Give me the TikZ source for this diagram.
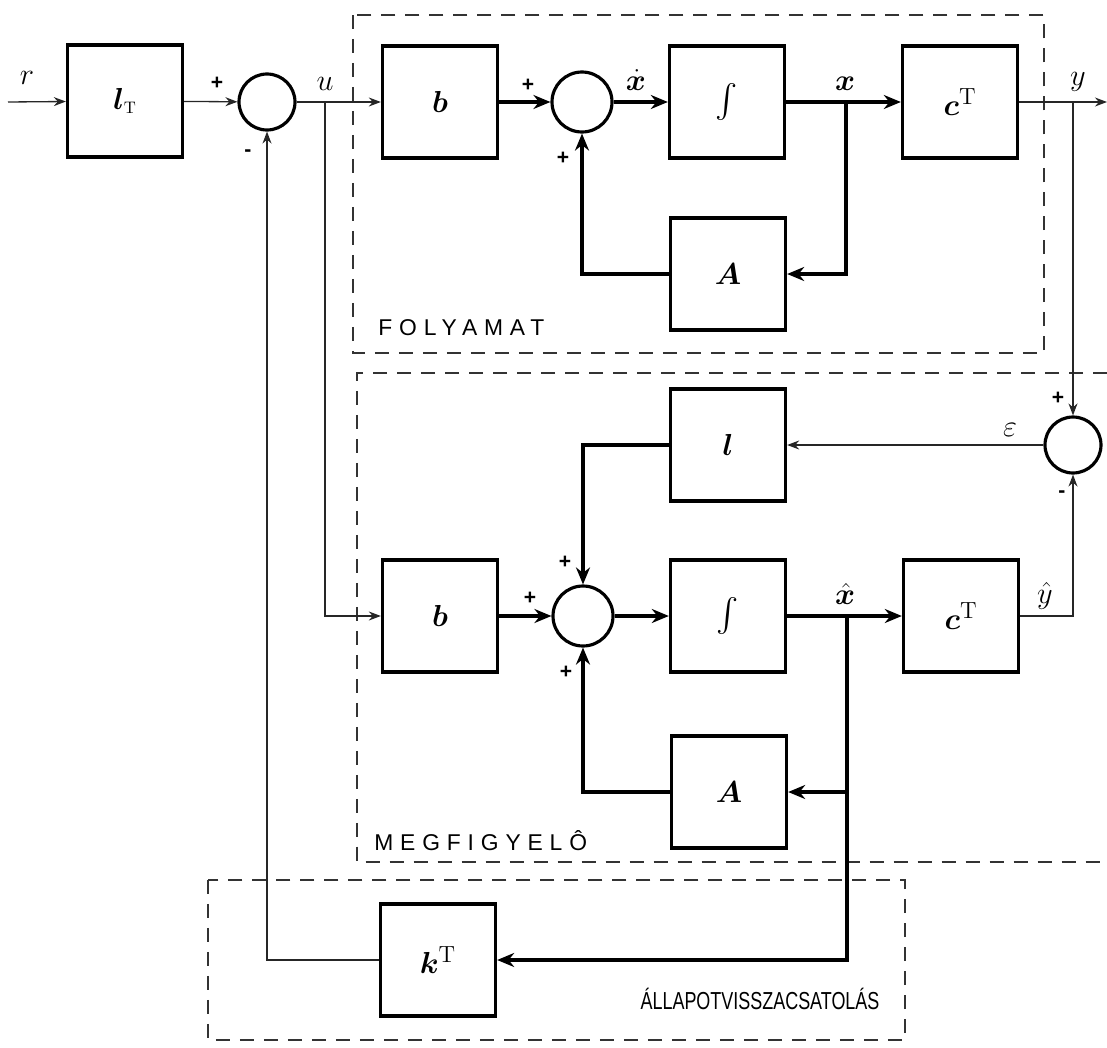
\documentclass[tikz,border=0pt]{standalone}
\usepackage{amsmath,amssymb}
\usepackage{bm}
\usepackage{fontspec}
\setsansfont{Liberation Sans}
\newfontfamily\spacedfont[LetterSpace=30]{Liberation Sans}
\newfontfamily\narrowfont[FakeStretch=0.73]{Liberation Sans}
\usetikzlibrary{arrows.meta}
\tikzset{
    block/.style={rectangle, draw=black, line width=1.9pt, minimum width=2.3cm, minimum height=2.24cm, font=\fontsize{19}{21}\selectfont},
    sumnode/.style={circle, draw=black, line width=1.8pt, minimum size=1.12cm, inner sep=0pt},
    arrow/.style={line width=1.8pt, -{Stealth[length=3.4mm, width=2.8mm]}},
    thinarrow/.style={line width=0.75pt, color=black!85, -{Stealth[length=2.4mm, width=1.8mm]}},
    boundary/.style={dash pattern=on 0.28cm off 0.2cm, line width=0.8pt, color=black!80},
    sign/.style={font=\sffamily\bfseries\large, inner sep=0pt},
    sig/.style={font=\fontsize{19}{21}\selectfont, inner sep=0pt},
    areatext/.style={font=\spacedfont\fontsize{13}{15}\selectfont, inner sep=0pt, anchor=west}
}
\begin{document}
\begin{tikzpicture}[x=0.02cm, y=-0.02cm]
    \useasboundingbox (0,0) rectangle (1107,1048);

    % Areas
    \draw [boundary] (353,15) rectangle (1044,353);
    \draw [boundary] (1107,373) -- (357,373) -- (357,862) -- (1107,862);
    \draw [boundary] (208,880) rectangle (905,1040);
    \node [areatext] at (378,328) {FOLYAMAT};
    \node [areatext] at (374,841) {MEGFIGYELÔ};
    \node [font=\narrowfont\fontsize{14}{16}\selectfont, inner sep=0pt] at (760,999) {ÁLLAPOTVISSZACSATOLÁS};

    % Nodes
    \node (lT) [block] at (125,101) {$\bm{l}_{\scriptscriptstyle\mathrm{T}}$};
    \node (sum1) [sumnode] at (267,102) {};
    \node (b1) [block] at (440,102) {$\bm{b}$};
    \node (sum2) [sumnode, minimum size=1.2cm] at (582,102) {};
    \node (int1) [block] at (727,102) {$\textstyle\int$};
    \node (c1) [block] at (960,102) {$\bm{c}^{\mathrm{T}}$};
    \node (A1) [block] at (728,274) {$\bm{A}$};

    \node (sum3) [sumnode] at (1073,445) {};
    \node (l2) [block] at (728,445) {$\bm{l}$};
    \node (b2) [block] at (440,616) {$\bm{b}$};
    \node (sum4) [sumnode, minimum size=1.2cm] at (583,616) {};
    \node (int2) [block] at (728,616) {$\textstyle\int$};
    \node (c2) [block] at (961,616) {$\bm{c}^{\mathrm{T}}$};
    \node (A2) [block] at (729,792) {$\bm{A}$};
    \node (kT) [block] at (438,960) {$\bm{k}^{\mathrm{T}}$};

    \coordinate (rin) at (8,102);
    \coordinate (ubr) at (325,102);
    \coordinate (xbr) at (846,102);
    \coordinate (ybr) at (1073,102);
    \coordinate (yout) at (1107,102);
    \coordinate (xhbr) at (847,616);

    % Arrows
    \draw [thinarrow] (rin) -- (lT);
    \draw [thinarrow] (lT) -- (sum1);
    \draw [thinarrow] (sum1) -- (b1);
    \draw [arrow] (b1) -- (sum2);
    \draw [arrow] (sum2) -- (int1);
    \draw [arrow] (int1) -- (c1);
    \draw [arrow] (xbr) |- (A1);
    \draw [arrow] (A1) -| (sum2);
    \draw [thinarrow] (c1) -- (yout);

    \draw [thinarrow] (ybr) -- (sum3);
    \draw [thinarrow] (sum3) -- (l2);
    \draw [arrow] (l2) -| (sum4);
    \draw [thinarrow] (ubr) |- (b2);
    \draw [arrow] (b2) -- (sum4);
    \draw [arrow] (sum4) -- (int2);
    \draw [arrow] (int2) -- (c2);
    \draw [thinarrow] (c2) -| (sum3);
    \draw [arrow] (xhbr) |- (A2);
    \draw [arrow] (A2) -| (sum4);
    \draw [arrow] (xhbr) |- (kT);
    \draw [thinarrow] (kT) -| (sum1);

    % Signals
    \node [sig] at (27,78) {$r$};
    \node [sig] at (325,84) {$u$};
    \node [sig] at (636,80) {$\dot{\bm{x}}$};
    \node [sig] at (845,84) {$\bm{x}$};
    \node [sig] at (1078,82) {$y$};
    \node [sig] at (1010,430) {$\varepsilon$};
    \node [sig] at (845,594) {$\hat{\bm{x}}$};
    \node [sig] at (1045,596) {$\hat{y}$};

    % Signs
    \node [sign] at (217,83) {+};
    \node [sign] at (248,153) {-};
    \node [sign] at (528,85) {+};
    \node [sign] at (563,158) {+};
    \node [sign] at (1058,398) {+};
    \node [sign] at (1062,494) {-};
    \node [sign] at (565,562) {+};
    \node [sign] at (530,598) {+};
    \node [sign] at (566,672) {+};
\end{tikzpicture}
\end{document}
